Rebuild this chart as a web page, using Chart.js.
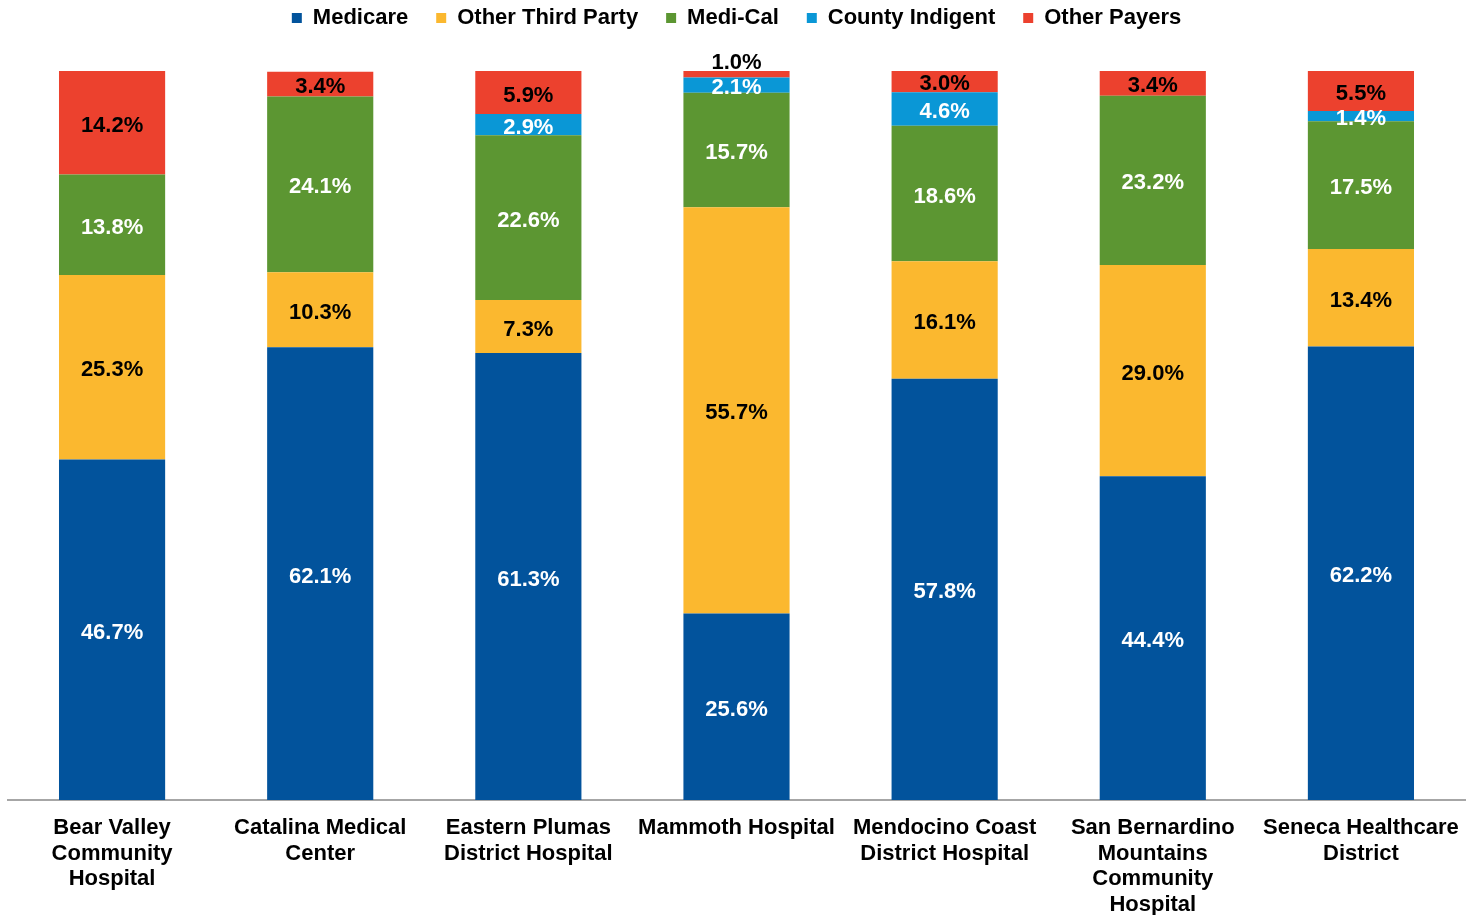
<!DOCTYPE html>
<html>
<head>
<meta charset="utf-8">
<script src="https://cdn.jsdelivr.net/npm/chart.js@4.4.0/dist/chart.umd.min.js"></script>
<style>
  html, body { margin: 0; padding: 0; background: #fff; }
  #wrap { width: 1468px; height: 915px; position: relative; }
</style>
</head>
<body>
<div id="wrap"><canvas id="payerChart"></canvas></div>
<script>
// Hospitais (rótulos em várias linhas, como no original)
const hospitals = [
    ['Bear Valley', 'Community', 'Hospital'],
    ['Catalina Medical', 'Center'],
    ['Eastern Plumas', 'District Hospital'],
    ['Mammoth Hospital'],
    ['Mendocino Coast', 'District Hospital'],
    ['San Bernardino', 'Mountains', 'Community', 'Hospital'],
    ['Seneca Healthcare', 'District']
];

// Percentuais por pagador
const medicare        = [46.7, 62.1, 61.3, 25.6, 57.8, 44.4, 62.2];
const otherThirdParty = [25.3, 10.3, 7.3, 55.7, 16.1, 29.0, 13.4];
const mediCal         = [13.8, 24.1, 22.6, 15.7, 18.6, 23.2, 17.5];
const countyIndigent  = [0, 0, 2.9, 2.1, 4.6, 0, 1.4];
const otherPayers     = [14.2, 3.4, 5.9, 1.0, 3.0, 3.4, 5.5];

const FONT = 'Liberation Sans, Arial, sans-serif';

// Rótulos de valor dentro das barras
const barLabels = {
    id: 'barLabels',
    afterDatasetsDraw(chart) {
        const ctx = chart.ctx;
        ctx.save();
        ctx.font = 'bold 22px ' + FONT;
        ctx.textAlign = 'center';
        ctx.textBaseline = 'middle';
        chart.data.datasets.forEach((ds, i) => {
            const meta = chart.getDatasetMeta(i);
            meta.data.forEach((bar, j) => {
                const v = ds.data[j];
                if (!v) return;
                const h = bar.base - bar.y;
                let y = (bar.y + bar.base) / 2 + 3;
                if (h < 10) y = bar.y - 7;
                ctx.fillStyle = h < 10 ? '#000' : ds.labelColor;
                ctx.fillText(v.toFixed(1) + '%', bar.x, y);
            });
        });
        ctx.restore();
    }
};

// Espaço extra entre a legenda e as barras
const legendGap = {
    id: 'legendGap',
    beforeLayout(chart) {
        const lg = chart.legend;
        if (lg && !lg._gapPatched) {
            const fit = lg.fit;
            lg.fit = function () {
                fit.call(this);
                this.height += 32;
            };
            lg._gapPatched = true;
        }
    }
};

const ctx = document.getElementById('payerChart').getContext('2d');
const chart = new Chart(ctx, {
    type: 'bar',
    data: {
        labels: hospitals,
        datasets: [
            { label: 'Medicare', data: medicare, backgroundColor: '#02539C', labelColor: '#fff' },
            { label: 'Other Third Party', data: otherThirdParty, backgroundColor: '#FBB82F', labelColor: '#000' },
            { label: 'Medi-Cal', data: mediCal, backgroundColor: '#5C9632', labelColor: '#fff' },
            { label: 'County Indigent', data: countyIndigent, backgroundColor: '#0A97D6', labelColor: '#fff' },
            { label: 'Other Payers', data: otherPayers, backgroundColor: '#EC412E', labelColor: '#000' }
        ]
    },
    options: {
        responsive: true,
        maintainAspectRatio: false,
        animation: false,
        layout: {
            padding: { left: 8, right: 3, top: -21, bottom: 0 }
        },
        datasets: {
            bar: {
                categoryPercentage: 1,
                barPercentage: 0.51,
                borderWidth: 0
            }
        },
        plugins: {
            legend: {
                display: true,
                position: 'top',
                labels: {
                    boxWidth: 10,
                    boxHeight: 10,
                    padding: 28,
                    color: '#000',
                    font: { family: FONT, size: 22, weight: 'bold' }
                }
            },
            tooltip: { enabled: false }
        },
        scales: {
            x: {
                stacked: true,
                grid: { display: false },
                border: { display: true, color: '#a6a6a6', width: 2 },
                afterFit(scale) {
                    scale.height = 115;
                },
                ticks: {
                    color: '#000',
                    maxRotation: 0,
                    autoSkip: false,
                    padding: 7,
                    font: { family: FONT, size: 22, weight: 'bold', lineHeight: 1.165 }
                }
            },
            y: {
                stacked: true,
                min: 0,
                max: 100,
                display: false
            }
        }
    },
    plugins: [barLabels, legendGap]
});
</script>
</body>
</html>
